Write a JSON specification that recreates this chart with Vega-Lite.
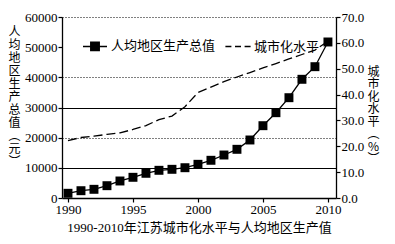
{
  "$schema": "https://vega.github.io/schema/vega-lite/v6.json",
  "width": 274,
  "height": 181,
  "autosize": {"type": "none"},
  "padding": {"left": 62, "top": 17, "right": 59, "bottom": 46},
  "background": "white",
  "config": {
    "view": {"stroke": null},
    "axis": {"labelFont": "Liberation Serif", "labelFontSize": 13, "labelColor": "#000", "domainColor": "#000", "tickColor": "#000", "titleColor": "#000", "domainWidth": 1.3, "tickWidth": 1.2}
  },
  "datasets": {
    "gdp": [
      {"year": 1990, "gdp": 1560}, {"year": 1991, "gdp": 2420}, {"year": 1992, "gdp": 2880},
      {"year": 1993, "gdp": 4080}, {"year": 1994, "gdp": 5640}, {"year": 1995, "gdp": 6860},
      {"year": 1996, "gdp": 8190}, {"year": 1997, "gdp": 9180}, {"year": 1998, "gdp": 9510},
      {"year": 1999, "gdp": 10040}, {"year": 2000, "gdp": 11170}, {"year": 2001, "gdp": 12500},
      {"year": 2002, "gdp": 14250}, {"year": 2003, "gdp": 16140}, {"year": 2004, "gdp": 19230},
      {"year": 2005, "gdp": 23970}, {"year": 2006, "gdp": 28280}, {"year": 2007, "gdp": 33250},
      {"year": 2008, "gdp": 39350}, {"year": 2009, "gdp": 43530}, {"year": 2010, "gdp": 51720}
    ],
    "urban": [
      {"year": 1990, "rate": 22.2}, {"year": 1991, "rate": 23.4}, {"year": 1992, "rate": 23.9},
      {"year": 1993, "rate": 24.6}, {"year": 1994, "rate": 25.2}, {"year": 1995, "rate": 26.5},
      {"year": 1996, "rate": 28.0}, {"year": 1997, "rate": 30.3}, {"year": 1998, "rate": 31.7},
      {"year": 1999, "rate": 35.3}, {"year": 2000, "rate": 40.8}, {"year": 2001, "rate": 42.9},
      {"year": 2002, "rate": 45.0}, {"year": 2003, "rate": 46.8}, {"year": 2004, "rate": 48.5},
      {"year": 2005, "rate": 50.3}, {"year": 2006, "rate": 52.0}, {"year": 2007, "rate": 53.8},
      {"year": 2008, "rate": 55.5}, {"year": 2009, "rate": 57.2}, {"year": 2010, "rate": 60.6}
    ],
    "series": [{"series": "人均地区生产总值"}, {"series": "城市化水平"}]
  },
  "layer": [
    {
      "data": {"name": "gdp"},
      "encoding": {
        "x": {
          "field": "year", "type": "quantitative",
          "scale": {"domain": [1989.54, 2010.62], "nice": false, "zero": false},
          "axis": {
            "values": [1990, 1995, 2000, 2005, 2010], "format": "d", "grid": false,
            "tickSize": 4, "labelPadding": 1,
            "title": "1990-2010年江苏城市化水平与人均地区生产值",
            "titleFont": "Liberation Serif, Noto Sans CJK SC", "titleFontSize": 13,
            "titleFontWeight": "normal", "titlePadding": 5
          }
        },
        "y": {
          "field": "gdp", "type": "quantitative",
          "scale": {"domain": [0, 60000], "nice": false},
          "axis": {
            "values": [0, 10000, 20000, 30000, 40000, 50000, 60000], "format": "d",
            "tickSize": 4, "labelPadding": 1,
            "grid": true, "gridColor": "#000",
            "gridWidth": {"condition": {"test": "datum.value === 10000 || datum.value === 30000", "value": 1.2}, "value": 1},
            "gridDash": {"condition": {"test": "datum.value === 10000 || datum.value === 30000", "value": []}, "value": [1, 2]},
            "gridOpacity": {"condition": {"test": "datum.value === 0 || datum.value === 50000", "value": 0}, "value": 1},
            "title": ["人", "均", "地", "区", "生", "产", "总", "值", "︵", "元", "︶"],
            "titleAngle": 0, "titleX": -48, "titleY": 9, "titleAlign": "center", "titleBaseline": "top",
            "titleLineHeight": 13, "titleFont": "Noto Sans CJK SC", "titleFontSize": 12, "titleFontWeight": "normal"
          }
        }
      },
      "layer": [
        {"mark": {"type": "line", "color": "#000", "strokeWidth": 1.3}},
        {"mark": {"type": "point", "shape": "square", "filled": true, "color": "#000", "size": 80, "opacity": 1}}
      ]
    },
    {
      "data": {"name": "urban"},
      "mark": {"type": "line", "color": "#000", "strokeWidth": 1.3, "strokeDash": [9, 4]},
      "encoding": {
        "x": {"field": "year", "type": "quantitative"},
        "y": {
          "field": "rate", "type": "quantitative",
          "scale": {"domain": [0, 70], "nice": false},
          "axis": {
            "orient": "right", "values": [0, 10, 20, 30, 40, 50, 60, 70], "format": ".1f",
            "tickSize": 4, "labelPadding": 1, "grid": false,
            "title": ["城", "市", "化", "水", "平", "︵", "%", "︶"],
            "titleAngle": 0, "titleX": 37, "titleY": 49, "titleAlign": "center", "titleBaseline": "top",
            "titleLineHeight": 12.5, "titleFont": "Noto Sans CJK SC", "titleFontSize": 12, "titleFontWeight": "normal"
          }
        }
      }
    },
    {
      "data": {"name": "series"},
      "mark": {"type": "point", "fill": "#000", "stroke": "#000", "strokeWidth": 1.3, "opacity": 0, "size": 0},
      "encoding": {
        "shape": {
          "field": "series", "type": "nominal",
          "scale": {
            "domain": ["人均地区生产总值", "城市化水平"],
            "range": ["M-1,0H1M-0.35,-0.35H0.35V0.35H-0.35Z", "M-1.05,0H-0.55M-0.25,0H0.25M0.55,0H1.05"]
          },
          "legend": {
            "orient": "none", "legendX": 20, "legendY": 16, "direction": "horizontal", "title": null,
            "symbolSize": 576, "padding": 0,
            "labelFont": "Noto Sans CJK SC", "labelFontSize": 13, "labelColor": "#000",
            "labelOffset": 3, "columnPadding": 6, "labelLimit": 200,
            "encode": {
              "symbols": {
                "update": {
                  "fill": {"value": "#000"},
                  "stroke": {"value": "#000"},
                  "strokeWidth": {"value": 1.3},
                  "opacity": {"value": 1},
                  "fillOpacity": {"value": 1},
                  "strokeOpacity": {"value": 1}
                }
              }
            }
          }
        }
      }
    }
  ],
  "resolve": {"scale": {"y": "independent"}}
}
